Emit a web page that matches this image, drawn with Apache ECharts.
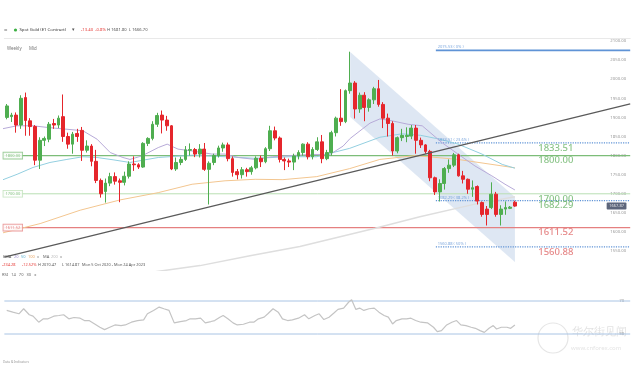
<!DOCTYPE html>
<html><head><meta charset="utf-8">
<script src="https://cdn.jsdelivr.net/npm/echarts@6/dist/echarts.min.js"></script>
<style>html,body{margin:0;padding:0;background:#fff}#c{width:642px;height:368px}</style>
</head><body><div id="c"></div>
<script>
// ---------------- DATA ----------------
// weekly candles: [open, close, low, high]
const candles = [
[1900,1930,1895,1935],[1902,1906,1888,1912],[1906,1880,1860,1913],[1880,1950,1870,1958],[1952,1892,1852,1965],
[1891,1876,1852,1898],[1876,1788,1775,1880],[1788,1840,1765,1848],[1840,1845,1825,1850],[1843,1882,1835,1888],
[1884,1880,1870,1896],[1880,1898,1872,1905],[1902,1850,1836,1960],[1850,1830,1818,1860],[1830,1856,1805,1862],
[1858,1850,1836,1870],[1866,1814,1786,1875],[1814,1825,1808,1840],[1825,1785,1772,1830],[1785,1735,1728,1815],
[1735,1700,1690,1740],[1706,1728,1677,1740],[1728,1745,1720,1755],[1745,1733,1724,1756],[1734,1730,1678,1740],
[1730,1746,1722,1758],[1746,1778,1740,1785],[1778,1776,1760,1798],[1776,1770,1765,1780],[1770,1832,1768,1835],
[1832,1845,1825,1848],[1845,1882,1840,1890],[1882,1905,1875,1912],[1906,1893,1858,1918],[1893,1878,1865,1904],
[1878,1765,1762,1880],[1765,1782,1760,1795],[1782,1790,1775,1797],[1790,1815,1786,1825],[1814,1816,1800,1832],
[1816,1804,1796,1820],[1804,1817,1795,1830],[1817,1764,1760,1833],[1764,1780,1672,1785],[1782,1800,1775,1805],
[1800,1820,1795,1826],[1820,1828,1810,1834],[1828,1792,1785,1834],[1792,1756,1745,1798],[1758,1750,1738,1765],
[1750,1763,1740,1770],[1763,1758,1745,1768],[1758,1768,1750,1773],[1768,1793,1764,1798],[1793,1784,1770,1800],
[1784,1818,1780,1822],[1818,1865,1812,1878],[1865,1846,1840,1876],[1846,1790,1782,1850],[1790,1786,1762,1795],
[1786,1783,1770,1792],[1783,1799,1762,1805],[1799,1808,1790,1814],[1808,1830,1800,1832],[1830,1797,1790,1835],
[1797,1816,1790,1822],[1816,1836,1812,1848],[1836,1792,1780,1854],[1792,1808,1788,1815],[1808,1860,1800,1865],
[1860,1898,1850,1902],[1898,1889,1878,1974],[1889,1970,1885,1973],[1970,1990,1962,2072],[1990,1922,1897,1995],
[1922,1958,1912,1965],[1958,1926,1890,1966],[1926,1946,1915,1950],[1946,1975,1935,1980],[1975,1934,1928,1998],
[1934,1898,1872,1940],[1898,1884,1850,1910],[1884,1812,1800,1890],[1812,1847,1806,1850],[1847,1853,1838,1870],
[1850,1853,1835,1874],[1851,1872,1843,1880],[1872,1840,1805,1880],[1840,1828,1820,1847],[1828,1811,1805,1830],
[1811,1742,1733,1815],[1742,1705,1697,1745],[1705,1727,1680,1738],[1727,1766,1711,1770],[1766,1775,1755,1790],
[1775,1802,1770,1807],[1802,1747,1745,1805],[1747,1738,1727,1760],[1738,1712,1700,1740],[1712,1716,1692,1735],
[1719,1681,1672,1722],[1677,1646,1640,1680],[1660,1646,1617,1668],[1664,1699,1660,1730],[1699,1646,1640,1705],
[1646,1660,1617,1670],[1660,1664,1645,1680],[1662,1665,1660,1668],[1678,1667.87,1666,1682]
];
const lastPrice = 1667.87;
// moving averages: [week index, value]
const ema20 = [[-1.4,1869],[2.2,1878],[5.6,1878],[9.2,1873],[12.8,1869],[16.2,1865],[19.2,1843],[22,1808],[24.7,1795],[26.2,1790],[28.7,1799],[32.2,1821],[34.1,1830],[36.4,1817],[39.4,1812],[43.6,1804],[46.4,1804],[49.2,1795],[52.8,1790],[56.5,1797],[60.2,1800],[64.5,1803],[68.7,1803],[71.5,1825],[73,1845],[77.2,1885],[79.3,1896],[81.9,1891],[85.3,1882],[88.3,1878],[92.5,1834],[95.9,1804],[99.5,1773],[103.1,1747],[105.9,1725],[108,1710]];
const ema50 = [[-1.4,1734],[2.2,1751],[5.6,1769],[9.2,1782],[12.8,1790],[16.2,1797],[19.2,1795],[22.6,1789],[26.2,1782],[32.2,1795],[39.4,1801],[46.4,1797],[52.8,1793],[60.2,1797],[65.9,1797],[68.7,1806],[72.9,1819],[79.3,1848],[84,1857],[88,1853],[92,1843],[95.9,1830],[101,1804],[105.3,1777],[108,1767]];
const ema100 = [[-1.4,1596],[7.1,1622],[15.6,1657],[24.1,1684],[32.2,1703],[39.4,1725],[46.4,1734],[52.8,1738],[58.7,1737],[65.9,1745],[72.9,1766],[79.3,1790],[86.8,1800],[95.9,1790],[108,1768]];
const ma200 = [[28,1490],[41.1,1512],[51.7,1538],[62.3,1562],[78.3,1610],[87.8,1640],[99.5,1673],[108,1692]];
const rsi = [[0,58.6],[1.3,56.5],[2.6,54.5],[3.6,60.6],[4.8,53.3],[5.6,51.6],[6.8,44.3],[7.8,48.4],[8.8,48.4],[10,51.6],[11.1,52.4],[12.1,53.3],[13.2,48.4],[14.3,50],[15.6,49.2],[16.5,46.3],[17.5,46.3],[18.7,42.2],[19.8,38.2],[20.8,35.3],[21.9,38.2],[23,41],[24.3,40.2],[25.2,41],[26.5,44.3],[27.8,46.3],[29.1,47.1],[29.9,54.5],[31.2,58.6],[32.4,62.6],[33.4,60.6],[34.5,58.6],[35.6,43.5],[36.9,45.1],[38.2,46.3],[39,48.4],[40.1,48.4],[41.2,49.2],[42.2,43.5],[43.4,45.1],[44.2,46.3],[45.3,50.4],[46,52.4],[47,48.4],[48.1,43.5],[49,41],[50.3,41.8],[51.6,44.3],[52.5,44.3],[53.5,48.4],[54.7,50.4],[55.5,54.5],[56.6,60.6],[57.7,56.5],[58.6,48.4],[59.7,46.3],[60.7,47.1],[62,49.2],[63.3,53.3],[64.2,48.4],[65.5,52.4],[66.4,54.5],[67.4,47.5],[68.5,50.4],[69.6,55.7],[70.4,59.8],[71.6,61.4],[72.7,68.8],[73.3,71.5],[74.2,59.8],[75,61.4],[75.9,58.6],[77,60.6],[78.1,61.4],[79.1,56.5],[80.2,52.4],[81.1,50.4],[82,42.2],[82.8,46.3],[84,48.4],[85,48.4],[85.9,49.2],[86.9,46.3],[88,44.3],[89.4,43.5],[90.7,38.2],[91.5,32.9],[92.4,34.1],[93.5,41],[94.6,44.3],[95.6,46.3],[96.5,41],[97.6,40.2],[98.7,38.2],[99.6,36.9],[100.6,34.1],[101.5,32],[102.5,36.9],[103.4,40.2],[104.1,36.1],[105.1,38.2],[106.3,38.2],[107.1,36.9],[108,41]];
const rsiLevels = [70, 30];
// drawings
const trendLine = [[-0.5,1534.3],[132.5,1935.6]];
const channel = [[73,2071],[108,1691.6],[108,1521.5],[73,1901]];
const fibLevels = [2075.53, 1833.51, 1682.29, 1560.88];
const fibPct = ['0%', '23.6%', '38.2%', '50%'];
const fibStart = 91.2;
const hLevels = [1800, 1700, 1611.52];
const bigLabels = [1833.51, 1800, 1700, 1682.29, 1611.52, 1560.88];
const bigLabelColors = ['g','g','g','g','r','r'];

// ---------------- LAYOUT / STYLE ----------------
const N_SLOTS = 133;
const categories = Array.from({length:N_SLOTS}, (_, i) => new Date(Date.UTC(2020, 9, 5 + 7*i)).toISOString().slice(0,10));
const XMIN = -0.5, XMAX = N_SLOTS - 0.5;
const GREEN = '#4fae50', RED = '#e5262c';
const LBL_GREEN = '#6db56a', LBL_RED = '#e06a6a';
const hColors = ['#7cbd78', '#b9dfb3', '#e58080'];
const hWidths = [1.3, 1, 1.3];
const FIB_BLUE = '#5f93d6';
const FONT = 'Noto Sans';
const BIG_LABEL_X = 116.7, BOX_LABEL_X = 1.3, PRICE_BOX_X = 129.6;

const series = [];
series.push({type:'custom', xAxisIndex:1, yAxisIndex:0, silent:true, z:1,
  data:[channel[0]],
  renderItem:(p, api) => ({type:'polygon', shape:{points:channel.map(pt => api.coord(pt))},
    style:{fill:'rgba(176,198,226,0.42)'}})});
hLevels.forEach((v, i) => series.push({type:'line', xAxisIndex:1, yAxisIndex:0, symbol:'none', silent:true, z:2,
  data:[[XMIN, v],[XMAX, v]], lineStyle:{color:hColors[i], width:hWidths[i]}}));
fibLevels.forEach((v, i) => series.push({type:'line', xAxisIndex:1, yAxisIndex:0, symbol:'none', silent:true, z:2,
  data:[[fibStart, v],[XMAX, v]], lineStyle:{color:FIB_BLUE, width: i===0 ? 1.6 : 1.2, type: i===0 ? 'solid' : [1.2,1.2]}}));
[[ma200,'#dedede',1.5],[ema100,'#f3c690',1],[ema50,'#93cfe0',1],[ema20,'#b7aad8',1]].forEach(([d,c,w]) =>
  series.push({type:'line', xAxisIndex:1, yAxisIndex:0, symbol:'none', silent:true, z:3, data:d, lineStyle:{color:c, width:w}}));
series.push({type:'candlestick', xAxisIndex:0, yAxisIndex:0, z:5, barWidth:'70%',
  data:candles.map(c => [c[0], c[1], c[2], c[3]]),
  itemStyle:{color:GREEN, color0:RED, borderColor:GREEN, borderColor0:RED, borderWidth:1}});
series.push({type:'line', xAxisIndex:1, yAxisIndex:0, symbol:'none', silent:true, z:6, data:trendLine, lineStyle:{color:'#5a5a5a', width:1.2}});

function textSeries(items, z){
  return {type:'scatter', xAxisIndex:1, yAxisIndex:0, symbolSize:0, silent:true, z:z||8, data:items};
}
series.push(textSeries(bigLabels.map((v,i) => ({value:[BIG_LABEL_X, v], label:{show:true, position:'bottom', distance:0,
  formatter:v.toFixed(2), color: bigLabelColors[i]==='g' ? LBL_GREEN : LBL_RED, fontSize:9.5, fontWeight:500, fontFamily:FONT}}))));
series.push(textSeries(fibLevels.map((v,i) => ({value:[fibStart + 0.4, v], label:{show:true, position:'top', align:'left', distance:1,
  formatter:v.toFixed(2) + ' ( ' + fibPct[i] + ' )', color:FIB_BLUE, fontSize:4, fontFamily:FONT}}))));
series.push(textSeries(hLevels.map((v,i) => ({value:[BOX_LABEL_X, v], label:{show:true, position:'inside',
  formatter:v.toFixed(2), color: i===2 ? LBL_RED : LBL_GREEN, fontSize:4, fontFamily:FONT,
  backgroundColor:'#fff', borderColor:hColors[i], borderWidth:0.8, padding:[1,2]}}))), 9);
series.push(textSeries([{value:[PRICE_BOX_X, lastPrice], label:{show:true, position:'inside', formatter:lastPrice.toFixed(2),
  color:'#fff', fontSize:4, fontFamily:FONT, backgroundColor:'#34405a', padding:[1.5,2.5], borderRadius:1}}], 9));

// RSI
rsiLevels.forEach(v => series.push({type:'line', xAxisIndex:2, yAxisIndex:1, symbol:'none', silent:true,
  data:[[XMIN, v],[XMAX, v]], lineStyle:{color:'#a9c4e4', width:1}}));
series.push({type:'line', xAxisIndex:2, yAxisIndex:1, symbol:'none', silent:true, data:rsi, z:4,
  lineStyle:{width:1.2, color:'#c4c4c4'}, itemStyle:{color:'#c4c4c4'}});

function txt(x, y, text, color, size, extra){
  return {type:'text', x:x, y:y, silent:true, style:Object.assign({text:text, fill:color, fontSize:size, fontFamily:FONT, verticalAlign:'middle'}, extra||{})};
}
const graphic = [
  txt(4, 30, '≡', '#777', 6),
  {type:'circle', shape:{cx:15.5, cy:30, r:1.6}, style:{fill:'#3cb043'}, silent:true},
  txt(19.5, 30, 'Spot Gold (E1 Contract)', '#333', 4.3),
  txt(72, 30, '▾', '#555', 4.5),
  txt(81, 30, '-13.40  -0.8%', '#e53935', 4.2),
  txt(107, 30, 'H 1681.80  L 1666.70', '#555', 4.2),
  txt(7, 48.5, 'Weekly', '#777', 4.4),
  txt(29, 48.5, 'Mid', '#777', 4.4),
  txt(3, 257, 'EMA', '#666', 4),
  txt(14, 257, '20', '#9d90cf', 4),
  txt(21, 257, '50', '#62b4d2', 4),
  txt(28, 257, '100', '#e8a766', 4),
  txt(37, 257, 'x', '#888', 4),
  txt(43, 257, 'MA', '#666', 4),
  txt(51, 257, '200', '#bbb', 4),
  txt(60, 257, 'x', '#888', 4),
  txt(2, 265, '-234.28', '#e53935', 3.9),
  txt(22, 265, '-12.52%', '#e53935', 3.9),
  txt(38, 265, 'H 2070.47', '#555', 3.9),
  txt(62, 265, 'L 1614.87', '#555', 3.9),
  txt(82, 265, 'Mon 5 Oct 2020 - Mon 24 Apr 2023', '#555', 3.9),
  txt(2, 275, 'RSI   14   70   30   x', '#666', 4),
  txt(3, 362, 'Data & Indicators', '#999', 3.2),
  {type:'circle', shape:{cx:553, cy:338, r:15}, style:{fill:'none', stroke:'#e6e6e6', lineWidth:1.2}, silent:true},
  txt(572, 332, '华尔街见闻', '#e2e2e2', 11),
  txt(571, 348, 'www.cnforex.com', '#e4e4e4', 6)
];

const option = {
  animation:false,
  backgroundColor:'#fff',
  textStyle:{fontFamily:FONT},
  grid:[{left:4.35, right:11.8, top:38, bottom:97.8}, {left:4.35, right:11.8, top:276.25, bottom:1}],
  xAxis:[
    {type:'category', gridIndex:0, data:categories, boundaryGap:true, show:false},
    {type:'value', gridIndex:0, min:XMIN, max:XMAX, position:'top',
      axisLine:{show:true, onZero:false, lineStyle:{color:'#e9e9e9', width:1}}, axisTick:{show:false}, axisLabel:{show:false}, splitLine:{show:false}},
    {type:'value', gridIndex:1, min:XMIN, max:XMAX, show:false}
  ],
  yAxis:[
    {type:'value', gridIndex:0, position:'right', min:1500, max:2107.85, interval:50,
      axisLine:{show:false}, axisTick:{show:false}, splitLine:{show:false},
      axisLabel:{inside:true, margin:4, fontSize:4.3, color:'#9a9a9a', fontFamily:FONT, showMinLabel:false, showMaxLabel:false,
        formatter:v => v.toFixed(2)}},
    {type:'value', gridIndex:1, position:'right', min:-10, max:100, interval:40,
      axisLine:{show:false}, axisTick:{show:false}, splitLine:{show:false},
      axisLabel:{inside:true, margin:6, fontSize:4.3, color:'#9a9a9a', fontFamily:FONT, showMinLabel:false, showMaxLabel:false}}
  ],
  series:series,
  graphic:graphic
};
const chart = echarts.init(document.getElementById('c'));
chart.setOption(option);
</script></body></html>
